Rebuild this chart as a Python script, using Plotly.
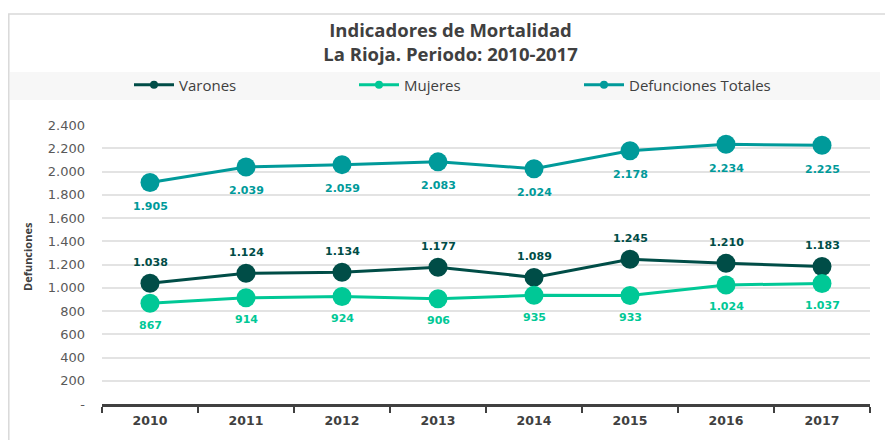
import plotly.graph_objects as go

years = ["2010", "2011", "2012", "2013", "2014", "2015", "2016", "2017"]
varones = [1038, 1124, 1134, 1177, 1089, 1245, 1210, 1183]
mujeres = [867, 914, 924, 906, 935, 933, 1024, 1037]
totales = [1905, 2039, 2059, 2083, 2024, 2178, 2234, 2225]
y_ticks = [0, 200, 400, 600, 800, 1000, 1200, 1400, 1600, 1800, 2000, 2200, 2400]

C_VAR = "#004D47"
C_MUJ = "#00C896"
C_TOT = "#009A9A"
GREY = "#404040"

def fmt(v):
    return "-" if v == 0 else f"{v:,}".replace(",", ".")

# page body has an 8px margin: build in screen coords, shift by OFF
OFF = 8
W, H = 893 - OFF, 440 - OFF
PL, PR, PT, PB = 102, 870, 125, 404  # plot area in screen pixels
L, R, T, B = PL - OFF, W - (PR - OFF), PT - OFF, H - (PB - OFF)
pw, ph = W - L - R, H - T - B

def px_x(p):
    return (p - PL) / pw

def px_y(p):
    return (PB - p) / ph

fig = go.Figure()
series = [("Varones", varones, C_VAR), ("Mujeres", mujeres, C_MUJ), ("Defunciones Totales", totales, C_TOT)]
for name, vals, col in series:
    fig.add_trace(go.Scatter(x=years, y=vals, mode="lines+markers", name=name,
                             line=dict(color=col, width=3),
                             marker=dict(color=col, size=19),
                             showlegend=False, cliponaxis=False))
# legend entries (no visible data)
for name, vals, col in series:
    fig.add_trace(go.Scatter(x=[years[0]], y=[None], mode="lines+markers", name=name,
                             line=dict(color=col, width=3),
                             marker=dict(color=col, size=8), showlegend=True))

annotations = []
offsets = {"Varones": 21, "Mujeres": -22, "Defunciones Totales": -24}
for name, vals, col in series:
    for i, v in enumerate(vals):
        annotations.append(dict(x=i, y=v, xref="x", yref="y", text=fmt(v), showarrow=False,
                                yshift=offsets[name],
                                font=dict(family="DejaVu Sans", size=11, color=col, weight="bold")))
annotations.append(dict(x=px_x(27), y=px_y(257), xref="paper", yref="paper", text="<b>Defunciones</b>",
                        textangle=-90, showarrow=False, xanchor="center", yanchor="middle",
                        font=dict(family="Open Sans", size=11, color=GREY)))

shapes = [
    dict(type="rect", xref="paper", yref="paper", x0=px_x(10), x1=px_x(880), y0=px_y(100), y1=px_y(72),
         fillcolor="#F7F7F7", line=dict(width=0), layer="below"),
    dict(type="rect", xref="paper", yref="paper", x0=px_x(8.8), x1=px_x(910), y0=px_y(460), y1=px_y(14),
         fillcolor="rgba(0,0,0,0)", line=dict(color="#D9D9D9", width=1.5), layer="below"),
]

fig.update_layout(
    width=W, height=H,
    margin=dict(l=L, r=R, t=T, b=B, autoexpand=False),
    paper_bgcolor="white", plot_bgcolor="white",
    title=dict(text="<b>Indicadores de Mortalidad<br>La Rioja. Periodo: 2010-2017</b>",
               x=0.5, xanchor="center", y=1 - (37 - OFF) / H, yanchor="middle", yref="container",
               font=dict(family="Open Sans", size=18.5, color=GREY)),
    legend=dict(orientation="h", x=px_x(129), xanchor="left", y=px_y(85), yanchor="middle",
                bgcolor="rgba(0,0,0,0)", entrywidth=170, itemwidth=40,
                font=dict(family="Open Sans", size=15, color=GREY)),
    xaxis=dict(type="category", categoryorder="array", categoryarray=years, range=[-0.5, 7.5],
               tickson="boundaries", ticks="outside", ticklen=6, tickwidth=2, tickangle=0,
               tickcolor=GREY, showline=True, linecolor=GREY, linewidth=2.5, showgrid=False,
               ticklabelstandoff=3,
               tickfont=dict(family="DejaVu Sans", size=12.5, color=GREY, weight="bold")),
    yaxis=dict(range=[0, 2400], tickvals=y_ticks, ticktext=[fmt(v) for v in y_ticks],
               showgrid=True, gridcolor="#E3E3E3", gridwidth=1.5, zeroline=False, showline=False,
               ticks="", ticklabelstandoff=16,
               tickfont=dict(family="DejaVu Sans", size=13, color="#595959")),
    annotations=annotations, shapes=shapes,
)

fig.write_html("out.html")
